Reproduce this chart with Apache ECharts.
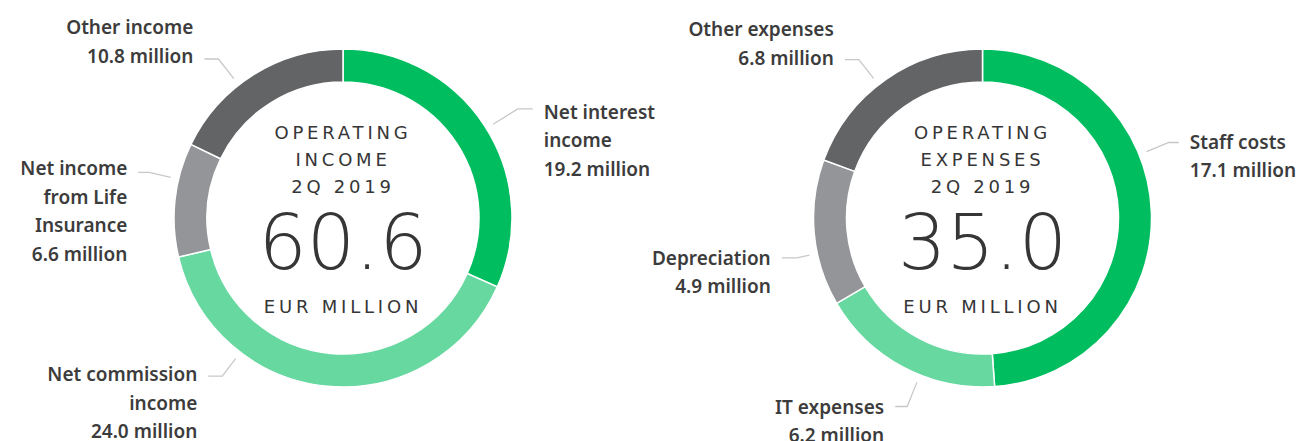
<!DOCTYPE html>
<html>
<head>
<meta charset="utf-8">
<script src="https://cdn.jsdelivr.net/npm/echarts@6/dist/echarts.min.js"></script>
<style>
  html, body { margin: 0; padding: 0; background: #fff; }
  #main { width: 1299px; height: 441px; }
</style>
</head>
<body>
<div id="main"></div>
<script>
// operating income 2Q 2019, EUR million
var incomeNames = ['Net interest\nincome', 'Net commission\nincome', 'Net income\nfrom Life\nInsurance', 'Other income'];
var incomeValues = [19.2, 24.0, 6.6, 10.8];
// operating expenses 2Q 2019, EUR million
var expenseNames = ['Staff costs', 'IT expenses', 'Depreciation', 'Other expenses'];
var expenseValues = [17.1, 6.2, 4.9, 6.8];

var centerTitles = ['OPERATING\nINCOME\n2Q 2019', 'OPERATING\nEXPENSES\n2Q 2019'];
var unitText = 'EUR MILLION';

var sliceColors = ['#00bd5f', '#66d8a0', '#939598', '#636466'];
var textColor = '#3c3c3c';

// ring geometry
var ringInner = 136, ringOuter = 169, guideStart = 177;
var centers = [[343, 218], [982.5, 218]];

// label guides: shift of the line from the slice middle (deg), radial part, flat part, text nudge
var guides = [
    [{ shift: 1, len: 29, len2: 15, dy: 3 }, { shift: 32, len: 22, len2: 14, dy: -2 }, { shift: 7, len: 22, len2: 11, dy: -4 }, { shift: -6, len: 25, len2: 14, dy: -3, above: true }],
    [{ shift: -20, len: 24, len2: 10, dy: -1 }, { shift: -6, len: 26, len2: 12, dy: 0 }, { shift: -7, len: 13, len2: 15, dy: 0 }, { shift: -3, len: 24, len2: 14, dy: -2, above: true }]
];

function sum(arr) {
    return arr.reduce(function (s, v) { return s + v; }, 0);
}

function midAngles(values) {
    var total = sum(values), acc = 0;
    return values.map(function (v) {
        var m = (acc + v / 2) / total * 360;
        acc += v;
        return m;
    });
}

function makeLayout(k, values) {
    var mids = midAngles(values);
    return function (params) {
        var g = guides[k][params.dataIndex];
        var a = (mids[params.dataIndex] + g.shift) * Math.PI / 180;
        var c = centers[k];
        var ux = Math.sin(a), uy = -Math.cos(a);
        var dir = ux < 0 ? -1 : 1;
        var p0 = [c[0] + guideStart * ux, c[1] + guideStart * uy];
        var p1 = [p0[0] + g.len * ux, p0[1] + g.len * uy];
        var p2 = [p1[0] + dir * g.len2, p1[1]];
        return {
            x: p2[0] + dir * 11,
            y: p2[1] + g.dy + (g.above ? 14.25 : -14.25),
            align: dir < 0 ? 'right' : 'left',
            verticalAlign: g.above ? 'bottom' : 'top',
            labelLinePoints: [p0, p1, p2]
        };
    };
}

function makeSeries(k, names, values) {
    return {
        type: 'pie',
        center: centers[k],
        radius: [ringInner, ringOuter],
        startAngle: 90,
        clockwise: true,
        avoidLabelOverlap: false,
        silent: true,
        itemStyle: { borderColor: '#fff', borderWidth: 1.5 },
        label: {
            show: true,
            position: 'outside',
            formatter: function (p) { return p.name + '\n' + p.value.toFixed(1) + ' million'; },
            color: textColor,
            fontFamily: 'Noto Sans',
            fontWeight: 600,
            fontSize: 19,
            lineHeight: 28.5
        },
        labelLine: { show: true, lineStyle: { color: '#c8c8c8', width: 1.3 } },
        labelLayout: makeLayout(k, values),
        data: names.map(function (n, i) {
            return { name: n, value: values[i], itemStyle: { color: sliceColors[i] } };
        })
    };
}

function centerTexts(k, values) {
    var cx = centers[k][0];
    return [
        { type: 'text', x: cx, y: 159, style: { text: centerTitles[k], fill: '#363636', font: '18px "DejaVu Sans"', lineHeight: 27, align: 'center', verticalAlign: 'middle' } },
        { type: 'text', x: cx, y: 242, style: { text: sum(values).toFixed(1), fill: '#363636', font: '200 76px "DejaVu Sans"', align: 'center', verticalAlign: 'middle' } },
        { type: 'text', x: cx, y: 306, style: { text: unitText, fill: '#363636', font: '18px "DejaVu Sans"', align: 'center', verticalAlign: 'middle' } }
    ];
}

var chart = echarts.init(document.getElementById('main'), null, { renderer: 'svg' });
chart.setOption({
    backgroundColor: '#fff',
    animation: false,
    series: [
        makeSeries(0, incomeNames, incomeValues),
        makeSeries(1, expenseNames, expenseValues)
    ],
    graphic: centerTexts(0, incomeValues).concat(centerTexts(1, expenseValues))
});

// spaced capitals in the ring centres
var spaced = ['OPERATING', 'INCOME', 'EXPENSES', '2Q 2019', unitText];
function spaceOut() {
    document.querySelectorAll('#main svg text').forEach(function (t) {
        if (spaced.indexOf(t.textContent) >= 0) t.style.letterSpacing = '3.8px';
    });
}
chart.on('finished', spaceOut);
setTimeout(spaceOut, 0);
</script>
</body>
</html>
